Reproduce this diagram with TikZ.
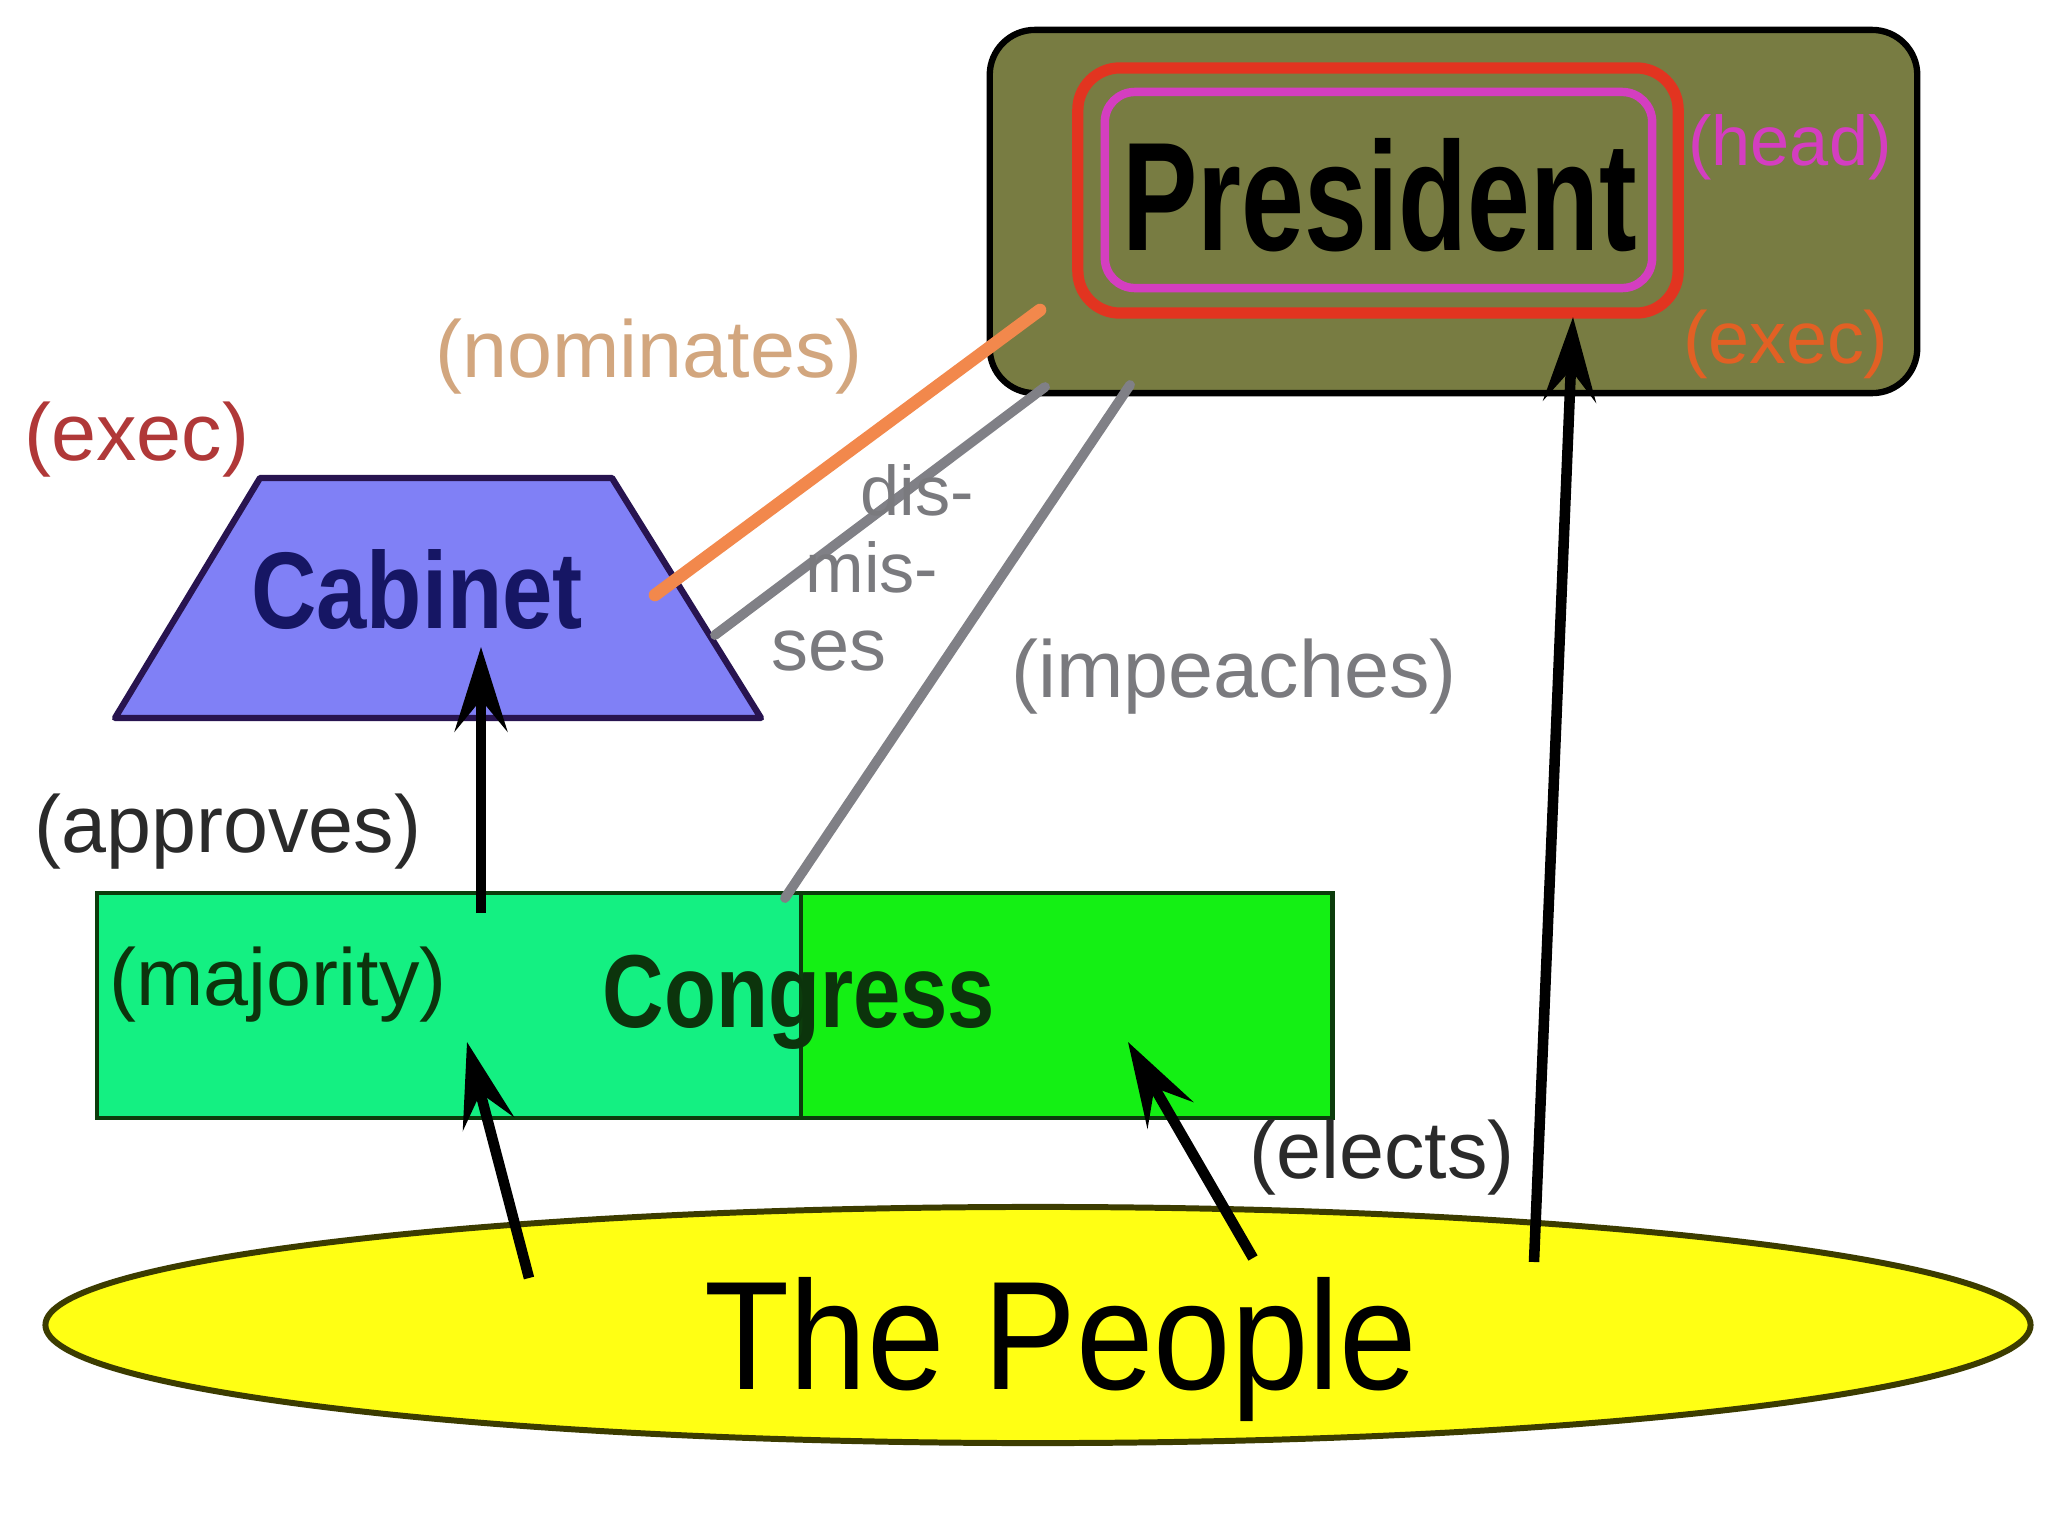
\documentclass[tikz,border=0pt]{standalone}
\usepackage{fontspec}
\setmainfont{Liberation Sans}
\usepackage{graphicx}
\usetikzlibrary{arrows.meta,positioning,shapes.geometric}

\definecolor{presolive}{RGB}{120,124,66}
\definecolor{presred}{RGB}{226,52,32}
\definecolor{presmag}{RGB}{212,62,192}
\definecolor{execorange}{RGB}{226,96,36}
\definecolor{execred}{RGB}{176,56,56}
\definecolor{nomtan}{RGB}{210,166,126}
\definecolor{nomorange}{RGB}{242,136,76}
\definecolor{cabblue}{RGB}{128,128,246}
\definecolor{cabedge}{RGB}{40,20,80}
\definecolor{cabnavy}{RGB}{22,22,100}
\definecolor{linegray}{RGB}{128,128,134}
\definecolor{textgray}{RGB}{122,122,126}
\definecolor{darktext}{RGB}{42,42,42}
\definecolor{congleft}{RGB}{20,240,130}
\definecolor{congright}{RGB}{20,240,20}
\definecolor{congedge}{RGB}{12,60,12}
\definecolor{congtext}{RGB}{12,52,12}
\definecolor{crowdyellow}{RGB}{255,255,20}
\definecolor{crowdedge}{RGB}{60,60,0}

\newcommand{\narrow}[2]{\scalebox{#1}[1]{#2}}

\begin{document}
\begin{tikzpicture}[x=0.01cm,y=-0.01cm,
  every node/.style={inner sep=0pt,outer sep=0pt},
  lbl/.style={anchor=base,font=\fontsize{23}{27}\selectfont},
  blk/.style={->,line width=3pt,black},
  gry/.style={line width=2.8pt,linegray,line cap=round}]
\tikzset{>={Stealth[length=24pt,width=15pt,inset=9pt]}}
\fill[white] (0,0) rectangle (2048,1536);
% president
\node[rectangle,rounded corners=0.45cm,draw=black,line width=1.8pt,fill=presolive,
      minimum width=9.27cm,minimum height=3.63cm] (presbox) at (1453.5,211.5) {};
\node[rectangle,rounded corners=0.42cm,draw=presred,line width=3.2pt,
      minimum width=6cm,minimum height=2.45cm] (presred) at (1378,190.5) {};
\node[rectangle,rounded corners=0.3cm,draw=presmag,line width=2.4pt,
      minimum width=5.47cm,minimum height=1.96cm] (presmag) at (1378.5,190) {};
\node[anchor=base,font=\fontsize{44}{44}\selectfont\bfseries] (pres) at (1380,250) {\narrow{0.73}{President}};
% cabinet
\coordinate (cabTL) at (260,478); \coordinate (cabTR) at (612,478);
\coordinate (cabBR) at (761,718); \coordinate (cabBL) at (115,718);
\filldraw[fill=cabblue,draw=cabedge,line width=1.8pt,line join=round]
  (cabTL) -- (cabTR) -- (cabBR) -- (cabBL) -- cycle;
\node[anchor=base,font=\fontsize{31}{31}\selectfont\bfseries,text=cabnavy] (cab) at (417,628) {\narrow{0.83}{Cabinet}};
% congress
\node[rectangle,draw=congedge,line width=1.3pt,fill=congleft,
      minimum width=7.04cm,minimum height=2.25cm] (congl) at (449,1005.5) {};
\node[rectangle,draw=congedge,line width=1.3pt,fill=congright,
      minimum width=5.31cm,minimum height=2.25cm,right=0pt of congl] (congr) {};
\node[anchor=base,font=\fontsize{29.5}{30}\selectfont\bfseries,text=congtext] (cong) at (799,1027) {\narrow{0.82}{Congress}};
% the people
\node[ellipse,draw=crowdedge,line width=1.7pt,fill=crowdyellow,
      minimum width=19.84cm,minimum height=2.36cm] (crowd) at (1038,1325) {};
\node[anchor=base,font=\fontsize{44}{44}\selectfont] (people) at (1061,1389) {\narrow{0.9}{The People}};

\coordinate (nomP) at (1040,310);  \coordinate (nomC) at (655,595);
\coordinate (disP) at (1045,387);  \coordinate (disC) at (715,635);
\coordinate (impC) at (785,898);   \coordinate (impP) at (1130,385);
\coordinate (aprC) at (481,913);   \coordinate (aprT) at (481,647);
\coordinate (elA)  at (529,1278);  \coordinate (elAT) at (467,1042);
\coordinate (elB)  at (1253,1258); \coordinate (elBT) at (1128,1042);
\coordinate (elP)  at (1534,1262); \coordinate (elPT) at (1573,317);

  \path[line width=3.6pt,nomorange,line cap=round] (nomP) edge (nomC);
  \path[gry] (disP) edge (disC);
  \path[gry] (impC) edge (impP);
  \path[blk] (aprC) edge (aprT);
  \path[blk] (elA) edge (elAT);
  \path[blk] (elB) edge (elBT);
  \path[blk] (elP) edge (elPT);

\node[lbl,text=presmag,font=\fontsize{20}{24}\selectfont] (headt) at (1790,165) {(head)};
\node[lbl,text=execorange,font=\fontsize{21}{25}\selectfont] (pexect) at (1786,363) {(exec)};
\node[lbl,text=nomtan] (nomt) at (649,377) {(nominates)};
\node[lbl,text=execred] (cexect) at (137,460) {(exec)};
\node[lbl,text=textgray,font=\fontsize{20}{24}\selectfont] (dist) at (917,515) {dis-};
\node[lbl,text=textgray,font=\fontsize{20}{24}\selectfont] (mist) at (872,592) {mis-};
\node[lbl,text=textgray,font=\fontsize{21}{25}\selectfont] (sest) at (829,670) {ses};
\node[lbl,text=textgray] (impt) at (1234,697) {(impeaches)};
\node[lbl,text=darktext] (aprt) at (228,852) {(approves)};
\node[lbl,text=congtext] (majt) at (278,1005) {(majority)};
\node[lbl,text=darktext] (elt) at (1382,1178) {(elects)};
\end{tikzpicture}
\end{document}
